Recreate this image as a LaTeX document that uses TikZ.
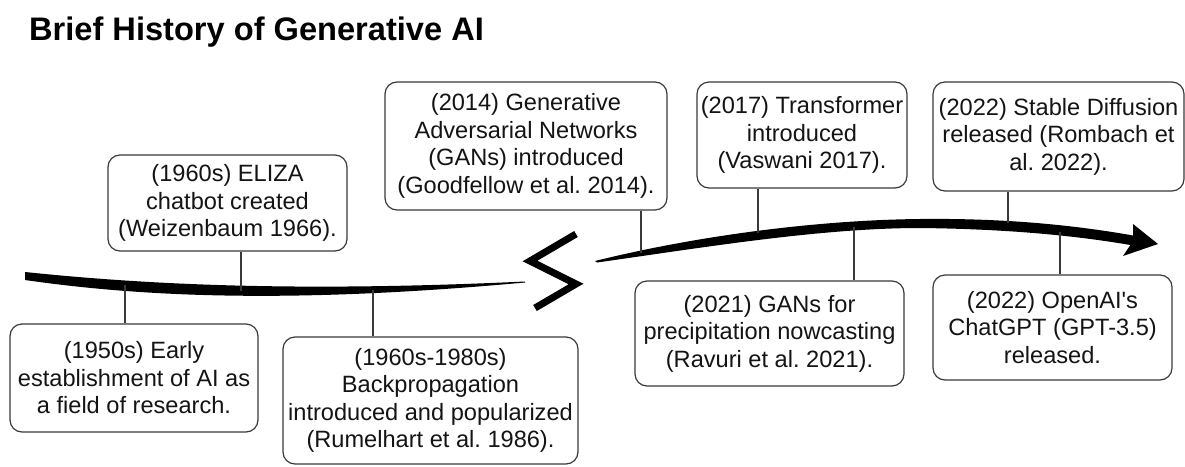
\documentclass[tikz,border=0pt]{standalone}
\usepackage{fontspec}
\setmainfont{Liberation Sans}
\frenchspacing
\definecolor{boxline}{HTML}{3A3A3A}
\definecolor{txt}{HTML}{141414}
\tikzset{
  ev/.style={draw=boxline, line width=1.2pt, rounded corners=12pt, inner sep=0pt,
    align=center, anchor=center, text=txt,
    font=\fontsize{23.6}{27.5}\selectfont},
  conn/.style={draw=boxline, line width=1.2pt},
  stroke/.style={fill=black, draw=none}
}
\begin{document}
\begin{tikzpicture}[x=1pt, y=-1pt]
\useasboundingbox (0,0) rectangle (1185,466);
\fill[white] (0,0) rectangle (1185,466);

% title
\node[anchor=base west, inner sep=0pt, text=black, font=\fontsize{32.6}{36}\selectfont\bfseries] (title) at (29,40) {Brief History of Generative AI};

% left timeline stroke
\fill[stroke] (25,272) .. controls (150,285) and (300,292) .. (525,281.5)
  -- (525,282.5) .. controls (300,303) and (150,298) .. (25,280) -- cycle;
% break symbol
\draw[line width=7pt, miter limit=10, line join=miter] (576,234) -- (530,261) -- (576,284) -- (535,308);
% right timeline stroke
\fill[stroke] (595,261) .. controls (700,235) and (820,220) .. (920,219)
  .. controls (1010,218) and (1080,226) .. (1136,236)
  -- (1136,246) .. controls (1080,236) and (1010,229) .. (920,228)
  .. controls (820,228) and (700,248) .. (597,262.5) -- cycle;
\fill[stroke] (1133,224) -- (1158,244) -- (1123,256) -- (1133,241) -- cycle;

% points on timeline
\coordinate (c1950) at (125,285);
\coordinate (c1960) at (241,291);
\coordinate (cbp) at (373,290);
\coordinate (cgan) at (641,253);
\coordinate (ctr) at (758,233);
\coordinate (c2021) at (854,227);
\coordinate (csd) at (1008,223);
\coordinate (cgpt) at (1060,232);

% events
\node[ev, minimum width=248pt, minimum height=108pt] (e1950) at (134,378) {(1950s) Early\\establishment of AI as\\a field of research.};
\node[ev, minimum width=239pt, minimum height=96pt] (e1960) at (227.5,203) {(1960s) ELIZA\\chatbot created\\(Weizenbaum 1966).};
\node[ev, minimum width=295pt, minimum height=127pt] (ebp) at (430.5,400.5) {(1960s-1980s)\\Backpropagation\\introduced and popularized\\(Rumelhart et al. 1986).};
\node[ev, minimum width=282pt, minimum height=128pt] (egan) at (526,146) {(2014) Generative\\Adversarial Networks\\(GANs) introduced\\(Goodfellow et al. 2014).};
\node[ev, minimum width=210pt, minimum height=106pt] (etr) at (802,135) {(2017) Transformer\\introduced\\(Vaswani 2017).};
\node[ev, minimum width=269pt, minimum height=105pt] (e2021) at (769.5,333.5) {(2021) GANs for\\precipitation nowcasting\\(Ravuri et al. 2021).};
\node[ev, minimum width=251pt, minimum height=109pt] (esd) at (1058.5,136.5) {(2022) Stable Diffusion\\released (Rombach et\\al. 2022).};
\node[ev, minimum width=239pt, minimum height=105pt] (egpt) at (1052.5,327.5) {(2022) OpenAI\textquotesingle s\\ChatGPT (GPT-3.5)\\released.};

% connectors
\draw[conn] (e1950.north -| c1950) -- (c1950);
\draw[conn] (e1960.south -| c1960) -- (c1960);
\draw[conn] (ebp.north -| cbp) -- (cbp);
\draw[conn] (egan.south -| cgan) -- (cgan);
\draw[conn] (etr.south -| ctr) -- (ctr);
\draw[conn] (e2021.north -| c2021) -- (c2021);
\draw[conn] (esd.south -| csd) -- (csd);
\draw[conn] (egpt.north -| cgpt) -- (cgpt);
\end{tikzpicture}
\end{document}
